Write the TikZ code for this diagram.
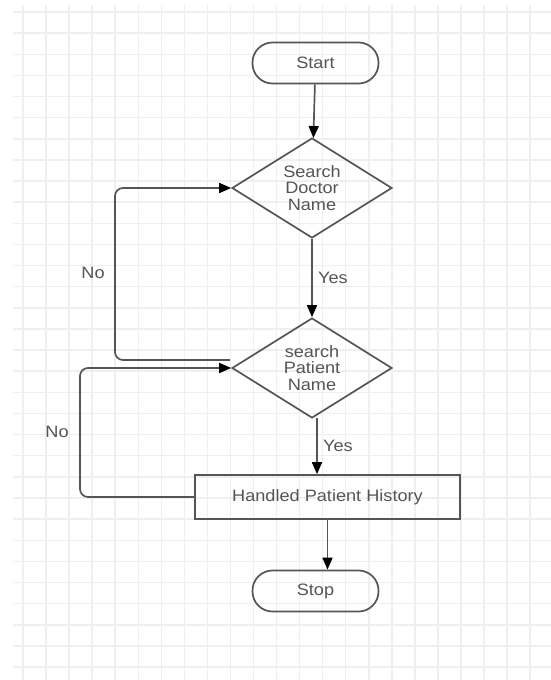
\documentclass[tikz,border=0pt]{standalone}
\usepackage{fontspec}
\setmainfont{Liberation Sans}[FakeStretch=1.1]
\usetikzlibrary{shapes.geometric,arrows.meta}
\definecolor{ink}{HTML}{555555}
\definecolor{gridline}{HTML}{EFEFEF}
\tikzset{
  term/.style={draw=ink,line width=1.7pt,rounded corners=20pt,minimum width=126pt,minimum height=41pt},
  decide/.style={diamond,draw=ink,line width=1.7pt,aspect=1.6,inner sep=0pt,minimum width=160pt,minimum height=100pt,align=center},
  proc/.style={draw=ink,line width=1.7pt,minimum width=265pt,minimum height=44pt},
  lbl/.style={text=ink},
  flow/.style={draw=ink,line width=1.7pt,rounded corners=8pt,-{Triangle[length=12pt,width=10pt,color=black]}}
}
\begin{document}
\begin{tikzpicture}[x=1pt,y=-1pt,font=\fontsize{16.5}{16.5}\selectfont,text=ink]
      \useasboundingbox (0,0) rectangle (551,680);
      % background grid
      \foreach \k in {0,...,22}
        \draw[gridline,line width=1.5pt] ({23+23.05*\k},5) -- ({23+23.05*\k},680);
      \foreach \k in {0,...,31}
        \draw[gridline,line width=1.5pt] (13,{12+21.13*\k}) -- (551,{12+21.13*\k});
      \node[term] (start) at (315.5,63) {Start};
      \node[decide] (doc) at (312,188) {Search\\Doctor\\Name};
      \node[decide] (pat) at (312,368) {search\\Patient\\Name};
      \node[proc] (hist) at (327.5,497) {Handled Patient History};
      \node[term] (stop) at (315.5,591) {Stop};
      \node[lbl] (no1) at (93,273) {No};
      \node[lbl] (no2) at (57,432) {No};
      \coordinate (back1) at (230,360);
      \coordinate (yesout) at (317,418);
      \begin{scope}[flow]
        \draw (start) to (doc);
        \draw (doc) to node[lbl,right,xshift=2pt] (yes1) {Yes} (pat);
        \draw (yesout) to node[lbl,right,xshift=2pt] (yes2) {Yes} (yesout |- hist.north);
        \draw (hist.south) to (hist.south |- stop.north);
        \draw (back1) -- (115,360) |- (doc.west);
        \draw (hist.west) -- (80,497) |- (pat.west);
      \end{scope}
    \end{tikzpicture}
\end{document}
